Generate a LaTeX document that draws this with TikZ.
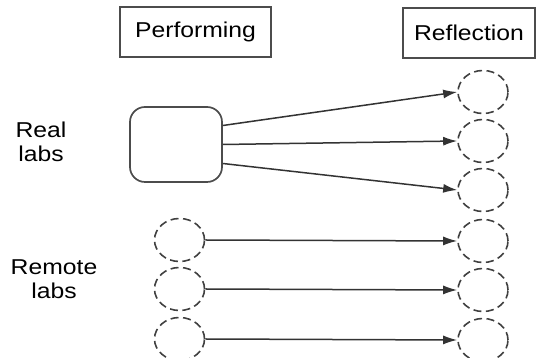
\documentclass[tikz,border=0pt]{standalone}
\usepackage{fontspec}
\setmainfont[FakeStretch=1.15]{Liberation Sans}
\usetikzlibrary{shapes.geometric,arrows.meta}
\begin{document}
\begin{tikzpicture}[x=1pt,y=1pt,
  headbox/.style={draw=black!70,line width=1.7pt,inner sep=0pt,minimum height=50pt,font=\fontsize{21.5}{25}\selectfont},
  lablabel/.style={align=center,inner sep=0pt,font=\fontsize{21.5}{24}\selectfont},
  dcirc/.style={ellipse,draw=black!75,dash pattern=on 8pt off 4.5pt,line width=1.6pt,minimum width=50pt,minimum height=43pt,inner sep=0pt},
  rbox/.style={draw=black!70,line width=1.7pt,rounded corners=15pt,minimum width=92pt,minimum height=75pt,inner sep=0pt},
  conn/.style={draw=black!80,line width=1.5pt,-{Latex[length=14pt,width=9pt]}}
]
\useasboundingbox (0,0) rectangle (536,358);
\node[headbox,minimum width=151pt] (perf) at (195.5,326) {Performing};
\node[headbox,minimum width=132pt] (refl) at (469,325) {Reflection};
\node[lablabel] (real) at (41,216) {Real\\labs};
\node[lablabel] (remote) at (54,79) {Remote\\labs};
\node[rbox] (lab) at (176,213.5) {};
\node[dcirc] (r1) at (483,266) {};
\node[dcirc] (r2) at (483,217) {};
\node[dcirc] (r3) at (483,168) {};
\node[dcirc] (r4) at (483,117) {};
\node[dcirc] (r5) at (483,68) {};
\node[dcirc] (r6) at (483,18) {};
\node[dcirc] (l4) at (179.5,118) {};
\node[dcirc] (l5) at (179.5,69) {};
\node[dcirc] (l6) at (179.5,19) {};
\draw[conn] ([yshift=19pt]lab.east) -- (r1.west);
\draw[conn] (lab.east) -- (r2.west);
\draw[conn] ([yshift=-19pt]lab.east) -- (r3.west);
\draw[conn] (l4.east) -- (r4.west);
\draw[conn] (l5.east) -- (r5.west);
\draw[conn] (l6.east) -- (r6.west);
\end{tikzpicture}
\end{document}
